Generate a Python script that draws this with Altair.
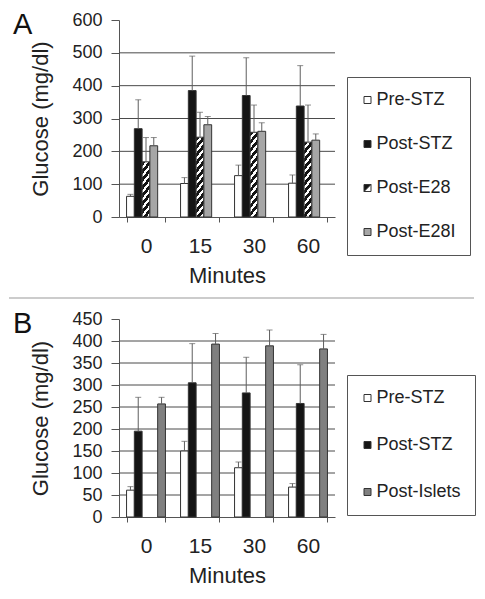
import altair as alt
import pandas as pd

# ---------------- data ----------------
minutes = ["0", "15", "30", "60"]

groups_a = ["Pre-STZ", "Post-STZ", "Post-E28", "Post-E28I"]
pre_a = [63, 102, 126, 103]
pre_a_sd = [6, 18, 32, 25]
stz_a = [269, 385, 370, 338]
stz_a_sd = [88, 105, 115, 123]
e28_a = [168, 243, 258, 228]
e28_a_sd = [74, 76, 83, 113]
e28i_a = [217, 281, 261, 234]
e28i_a_sd = [25, 25, 26, 19]

groups_b = ["Pre-STZ", "Post-STZ", "Post-Islets"]
pre_b = [61, 150, 112, 68]
pre_b_sd = [8, 22, 13, 8]
stz_b = [195, 305, 282, 258]
stz_b_sd = [77, 89, 81, 88]
islets_b = [257, 393, 389, 382]
islets_b_sd = [15, 24, 36, 33]

ticks_a = [0, 100, 200, 300, 400, 500, 600]
ticks_b = [0, 50, 100, 150, 200, 250, 300, 350, 400, 450]

# ---------------- styling ----------------
FONT = "Liberation Sans"
TXT = "#222222"
LINE = "#555555"
W = 216
H_A = 197
H_B = 198
PAD_INNER = 0.28


def frame(groups, means, sds):
    rows = []
    for g, m, s in zip(groups, means, sds):
        for mi, mv, sv in zip(minutes, m, s):
            rows.append({"minute": mi, "group": g, "mean": mv, "top": mv + sv})
    return pd.DataFrame(rows)


df_a = frame(groups_a, [pre_a, stz_a, e28_a, e28i_a], [pre_a_sd, stz_a_sd, e28_a_sd, e28i_a_sd])
df_b = frame(groups_b, [pre_b, stz_b, islets_b], [pre_b_sd, stz_b_sd, islets_b_sd])


def hatch(h, w, period=8.0, black=0.55):
    """diagonal '/' stripes as a hard-stop linear gradient (bbox units)."""
    r = h / w
    k = (1 + r) / (1 + r * r)
    total = w + h
    stops = []
    pos = 0.0
    while pos < total - 1e-6:
        a = pos / total
        b = min((pos + black * period) / total, 1.0)
        c = min((pos + period) / total, 1.0)
        stops += [
            {"offset": a, "color": "#151515"},
            {"offset": b, "color": "#151515"},
            {"offset": b, "color": "#ffffff"},
            {"offset": c, "color": "#ffffff"},
        ]
        pos += period
    return {"gradient": "linear", "x1": 0, "y1": 0, "x2": k, "y2": k * r, "stops": stops}


E28_SYMBOL = "M-1,1L-1,-1L1,-1Z M1,-1L1,1L-1,1L1,1"


def panel(df, groups, fills, shapes, ticks, H, letter, row_pad, leg_y, hatch_group=None):
    ymax = ticks[-1]
    n = len(groups)
    band = W / len(minutes) * (1 - PAD_INNER)
    bw = band / n

    conds = []
    if hatch_group is not None:
        sub = df[df["group"] == hatch_group]
        for mi, mv in zip(sub["minute"], sub["mean"]):
            h = mv * H / ymax
            conds.append({
                "test": f"datum.group === '{hatch_group}' && datum.minute === '{mi}'",
                "value": hatch(h, bw),
            })
    for g, f in zip(groups, fills):
        conds.append({"test": f"datum.group === '{g}'", "value": f})

    x_axis = alt.Axis(
        title="Minutes", labelAngle=0, tickBand="extent", tickSize=5,
        labelPadding=13, labelFontSize=21, titleFontSize=22, titlePadding=9,
        titleFontWeight="normal", domainColor=LINE, tickColor=LINE,
        labelColor=TXT, titleColor=TXT, labelFont=FONT, titleFont=FONT,
        grid=False,
    )
    x = alt.X(
        "minute:N",
        sort=minutes,
        scale=alt.Scale(domain=minutes, paddingInner=PAD_INNER, paddingOuter=PAD_INNER / 2),
        axis=x_axis,
    )
    xo = alt.XOffset("group:N", sort=groups,
                     scale=alt.Scale(domain=groups, paddingInner=0, paddingOuter=0))
    y_scale = alt.Scale(domain=[0, ymax], nice=False, zero=True)
    y_axis = alt.Axis(
        values=ticks, title="Glucose (mg/dl)", tickSize=8,
        labelPadding=9, labelFontSize=18, titleFontSize=22, titlePadding=19,
        labelOverlap=False,
        titleFontWeight="normal", domainColor=LINE, tickColor=LINE,
        labelColor=TXT, titleColor=TXT, labelFont=FONT, titleFont=FONT,
        grid=False,
    )
    y = alt.Y("mean:Q", scale=y_scale, axis=y_axis)

    base = alt.Chart(df)

    grid_df = pd.DataFrame({"v": ticks[1:-1]})
    grid = alt.Chart(grid_df).mark_rule(color="#4a4a4a", strokeWidth=1).encode(
        y=alt.Y("v:Q", scale=y_scale, axis=y_axis),
    )

    bars = base.mark_bar(stroke="#333333", strokeWidth=1).encode(
        x=x, xOffset=xo, y=y,
        fill={"condition": conds, "value": "#151515"},
    )

    err = base.mark_rule(color="#5e5e5e", strokeWidth=1).encode(
        x=x, xOffset=xo, y=y, y2="top:Q",
    )
    caps = base.mark_tick(color="#5e5e5e", thickness=1, size=6).encode(
        x=x, xOffset=xo, y=alt.Y("top:Q", scale=y_scale, axis=y_axis),
    )

    leg = alt.Legend(
        title=None, orient="none", legendX=W + 12, legendY=leg_y, direction="vertical",
        labelFontSize=18, labelFont=FONT, labelColor=TXT,
        symbolSize=49, symbolStrokeWidth=1, symbolOpacity=1, symbolOffset=-2.5,
        rowPadding=row_pad, padding=14, strokeColor="#555555", labelOffset=0,
    )
    legend_layer = base.transform_filter("false").mark_point(
        filled=True, opacity=1, strokeWidth=1
    ).encode(
        x=x, y=y,
        color=alt.Color("group:N", scale=alt.Scale(domain=groups, range=fills), legend=leg),
        shape=alt.Shape("group:N", scale=alt.Scale(domain=groups, range=shapes), legend=leg),
        stroke=alt.value("#333333"),
    )

    letter_mark = alt.Chart(alt.Data(values=[{}])).mark_text(
        text=letter, align="left", baseline="alphabetic", fontSize=29, font=FONT, color="#111111",
    ).encode(x=alt.value(-106), y=alt.value(14))

    return alt.layer(grid, bars, err, caps, legend_layer, letter_mark).properties(width=W, height=H)


chart_a = panel(
    df_a, groups_a,
    fills=["#ffffff", "#151515", "#151515", "#a6a6a6"],
    shapes=["square", "square", E28_SYMBOL, "square"],
    ticks=ticks_a, H=H_A, letter="A", row_pad=26, leg_y=57, hatch_group="Post-E28",
)

separator = alt.Chart(alt.Data(values=[{}])).mark_rule(color="#cccccc", strokeWidth=2).encode(
    x=alt.value(-110), x2=alt.value(355), y=alt.value(278),
)
chart_a = alt.layer(chart_a, separator)

chart_b = panel(
    df_b, groups_b,
    fills=["#ffffff", "#151515", "#808080"],
    shapes=["square", "square", "square"],
    ticks=ticks_b, H=H_B, letter="B", row_pad=29, leg_y=56,
)

chart = alt.vconcat(chart_a, chart_b, spacing=11).resolve_scale(
    color="independent", shape="independent", x="independent", y="independent"
).resolve_legend(color="independent", shape="independent").properties(
    padding={"top": 3, "left": 0, "right": 0, "bottom": 0},
).configure_view(stroke=None)

chart.save("out.html", embed_options={"renderer": "svg", "actions": False})
